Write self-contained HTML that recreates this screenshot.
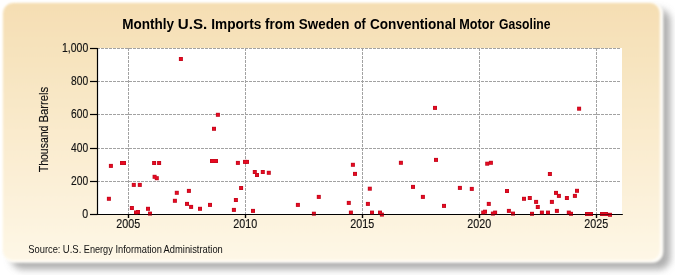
<!DOCTYPE html>
<html><head><meta charset="utf-8"><style>
html,body{margin:0;padding:0;background:#fff;width:675px;height:275px;overflow:hidden}
svg{display:block;will-change:transform}
text{font-family:"Liberation Sans",sans-serif;fill:#000}
.lab{font-size:12px;fill:#111;stroke:#111;stroke-width:0.15px}
.title{font-size:13.9px;font-weight:bold;fill:#000}
.src{font-size:10.3px;fill:#111}
</style></head><body>
<svg width="675" height="275" viewBox="0 0 675 275">
<defs>
<linearGradient id="bg" x1="0" y1="0" x2="0" y2="1">
<stop offset="0" stop-color="#f5deb3"/>
<stop offset="1" stop-color="#fef7e6"/>
</linearGradient>
<filter id="sh" x="-5%" y="-5%" width="115%" height="125%">
<feGaussianBlur stdDeviation="3.6"/>
</filter>
<filter id="sw" x="-2%" y="-2%" width="104%" height="106%"><feGaussianBlur stdDeviation="0.9"/></filter>
<filter id="sw2" x="-2%" y="-2%" width="104%" height="106%"><feGaussianBlur stdDeviation="1.1"/></filter>
</defs>
<rect x="11" y="9" width="659.5" height="260.5" rx="12" ry="12" fill="#7a7a7a" fill-opacity="0.6" filter="url(#sh)"/>
<rect x="2.5" y="2.5" width="660.8" height="260.3" rx="11" ry="11" fill="#fffdf8" filter="url(#sw)"/>
<rect x="3" y="3" width="656.8" height="257.2" rx="10" ry="10" fill="url(#bg)" filter="url(#sw2)"/>
<rect x="97" y="48" width="525" height="166.5" fill="#fff"/>
<line x1="97" y1="181.5" x2="621" y2="181.5" stroke="#a2a2a2" stroke-width="1" stroke-dasharray="3,1"/>
<line x1="97" y1="148.5" x2="621" y2="148.5" stroke="#a2a2a2" stroke-width="1" stroke-dasharray="3,1"/>
<line x1="97" y1="114.5" x2="621" y2="114.5" stroke="#a2a2a2" stroke-width="1" stroke-dasharray="3,1"/>
<line x1="97" y1="81.5" x2="621" y2="81.5" stroke="#a2a2a2" stroke-width="1" stroke-dasharray="3,1"/>
<line x1="97" y1="48.5" x2="621" y2="48.5" stroke="#a2a2a2" stroke-width="1" stroke-dasharray="3,1"/>
<line x1="128.5" y1="48" x2="128.5" y2="214" stroke="#a2a2a2" stroke-width="1" stroke-dasharray="3,1"/>
<line x1="245.5" y1="48" x2="245.5" y2="214" stroke="#a2a2a2" stroke-width="1" stroke-dasharray="3,1"/>
<line x1="362.5" y1="48" x2="362.5" y2="214" stroke="#a2a2a2" stroke-width="1" stroke-dasharray="3,1"/>
<line x1="479.5" y1="48" x2="479.5" y2="214" stroke="#a2a2a2" stroke-width="1" stroke-dasharray="3,1"/>
<line x1="596.5" y1="48" x2="596.5" y2="214" stroke="#a2a2a2" stroke-width="1" stroke-dasharray="3,1"/>
<line x1="97.5" y1="48" x2="97.5" y2="215" stroke="#000" stroke-width="1.2"/>
<line x1="90" y1="214.5" x2="97.5" y2="214.5" stroke="#000" stroke-width="1.2"/>
<line x1="90" y1="181.5" x2="97.5" y2="181.5" stroke="#000" stroke-width="1.2"/>
<line x1="90" y1="148.5" x2="97.5" y2="148.5" stroke="#000" stroke-width="1.2"/>
<line x1="90" y1="114.5" x2="97.5" y2="114.5" stroke="#000" stroke-width="1.2"/>
<line x1="90" y1="81.5" x2="97.5" y2="81.5" stroke="#000" stroke-width="1.2"/>
<line x1="90" y1="48.5" x2="97.5" y2="48.5" stroke="#000" stroke-width="1.2"/>
<line x1="128.5" y1="214.5" x2="128.5" y2="218" stroke="#000" stroke-width="1.2"/>
<line x1="245.5" y1="214.5" x2="245.5" y2="218" stroke="#000" stroke-width="1.2"/>
<line x1="362.5" y1="214.5" x2="362.5" y2="218" stroke="#000" stroke-width="1.2"/>
<line x1="479.5" y1="214.5" x2="479.5" y2="218" stroke="#000" stroke-width="1.2"/>
<line x1="596.5" y1="214.5" x2="596.5" y2="218" stroke="#000" stroke-width="1.2"/>
<line x1="97" y1="214.5" x2="622.7" y2="214.5" stroke="#000" stroke-width="1.2"/>
<rect x="106.9" y="196.8" width="4" height="4" fill="#c40a1e"/>
<rect x="108.9" y="163.9" width="4" height="4" fill="#c40a1e"/>
<rect x="120.0" y="161.0" width="4" height="4" fill="#c40a1e"/>
<rect x="122.0" y="161.0" width="4" height="4" fill="#c40a1e"/>
<rect x="129.9" y="206.0" width="4" height="4" fill="#c40a1e"/>
<rect x="131.8" y="182.9" width="4" height="4" fill="#c40a1e"/>
<rect x="134.0" y="210.5" width="4" height="4" fill="#c40a1e"/>
<rect x="136.0" y="210.0" width="4" height="4" fill="#c40a1e"/>
<rect x="137.8" y="182.9" width="4" height="4" fill="#c40a1e"/>
<rect x="146.0" y="206.8" width="4" height="4" fill="#c40a1e"/>
<rect x="148.0" y="211.6" width="4" height="4" fill="#c40a1e"/>
<rect x="152.1" y="161.0" width="4" height="4" fill="#c40a1e"/>
<rect x="157.1" y="161.0" width="4" height="4" fill="#c40a1e"/>
<rect x="152.6" y="174.8" width="4" height="4" fill="#c40a1e"/>
<rect x="154.8" y="176.2" width="4" height="4" fill="#c40a1e"/>
<rect x="172.9" y="198.8" width="4" height="4" fill="#c40a1e"/>
<rect x="174.8" y="190.8" width="4" height="4" fill="#c40a1e"/>
<rect x="178.9" y="57.0" width="4" height="4" fill="#c40a1e"/>
<rect x="185.0" y="201.9" width="4" height="4" fill="#c40a1e"/>
<rect x="186.9" y="188.9" width="4" height="4" fill="#c40a1e"/>
<rect x="189.1" y="204.9" width="4" height="4" fill="#c40a1e"/>
<rect x="198.0" y="206.8" width="4" height="4" fill="#c40a1e"/>
<rect x="208.0" y="202.9" width="4" height="4" fill="#c40a1e"/>
<rect x="210.0" y="159.0" width="4" height="4" fill="#c40a1e"/>
<rect x="212.0" y="159.0" width="4" height="4" fill="#c40a1e"/>
<rect x="214.0" y="159.0" width="4" height="4" fill="#c40a1e"/>
<rect x="212.0" y="126.8" width="4" height="4" fill="#c40a1e"/>
<rect x="215.9" y="112.8" width="4" height="4" fill="#c40a1e"/>
<rect x="231.9" y="207.9" width="4" height="4" fill="#c40a1e"/>
<rect x="233.9" y="198.0" width="4" height="4" fill="#c40a1e"/>
<rect x="235.9" y="160.9" width="4" height="4" fill="#c40a1e"/>
<rect x="239.1" y="186.0" width="4" height="4" fill="#c40a1e"/>
<rect x="243.0" y="159.9" width="4" height="4" fill="#c40a1e"/>
<rect x="245.0" y="159.9" width="4" height="4" fill="#c40a1e"/>
<rect x="251.0" y="208.9" width="4" height="4" fill="#c40a1e"/>
<rect x="252.8" y="170.0" width="4" height="4" fill="#c40a1e"/>
<rect x="255.0" y="173.0" width="4" height="4" fill="#c40a1e"/>
<rect x="260.8" y="170.0" width="4" height="4" fill="#c40a1e"/>
<rect x="266.8" y="170.8" width="4" height="4" fill="#c40a1e"/>
<rect x="295.9" y="202.9" width="4" height="4" fill="#c40a1e"/>
<rect x="311.9" y="211.7" width="4" height="4" fill="#c40a1e"/>
<rect x="316.8" y="194.9" width="4" height="4" fill="#c40a1e"/>
<rect x="346.8" y="200.9" width="4" height="4" fill="#c40a1e"/>
<rect x="348.9" y="210.6" width="4" height="4" fill="#c40a1e"/>
<rect x="350.9" y="162.8" width="4" height="4" fill="#c40a1e"/>
<rect x="353.0" y="171.9" width="4" height="4" fill="#c40a1e"/>
<rect x="365.9" y="201.9" width="4" height="4" fill="#c40a1e"/>
<rect x="367.8" y="186.7" width="4" height="4" fill="#c40a1e"/>
<rect x="370.0" y="210.6" width="4" height="4" fill="#c40a1e"/>
<rect x="378.0" y="210.6" width="4" height="4" fill="#c40a1e"/>
<rect x="379.9" y="212.6" width="4" height="4" fill="#c40a1e"/>
<rect x="398.9" y="160.8" width="4" height="4" fill="#c40a1e"/>
<rect x="411.0" y="184.9" width="4" height="4" fill="#c40a1e"/>
<rect x="420.9" y="194.9" width="4" height="4" fill="#c40a1e"/>
<rect x="433.0" y="105.9" width="4" height="4" fill="#c40a1e"/>
<rect x="434.0" y="157.9" width="4" height="4" fill="#c40a1e"/>
<rect x="442.0" y="203.9" width="4" height="4" fill="#c40a1e"/>
<rect x="457.9" y="185.9" width="4" height="4" fill="#c40a1e"/>
<rect x="469.8" y="186.9" width="4" height="4" fill="#c40a1e"/>
<rect x="481.2" y="210.6" width="4" height="4" fill="#c40a1e"/>
<rect x="483.0" y="209.7" width="4" height="4" fill="#c40a1e"/>
<rect x="485.2" y="161.7" width="4" height="4" fill="#c40a1e"/>
<rect x="488.9" y="160.8" width="4" height="4" fill="#c40a1e"/>
<rect x="486.8" y="201.9" width="4" height="4" fill="#c40a1e"/>
<rect x="490.9" y="211.6" width="4" height="4" fill="#c40a1e"/>
<rect x="493.1" y="210.6" width="4" height="4" fill="#c40a1e"/>
<rect x="505.0" y="189.0" width="4" height="4" fill="#c40a1e"/>
<rect x="506.9" y="208.9" width="4" height="4" fill="#c40a1e"/>
<rect x="511.0" y="211.6" width="4" height="4" fill="#c40a1e"/>
<rect x="522.0" y="196.8" width="4" height="4" fill="#c40a1e"/>
<rect x="527.8" y="196.0" width="4" height="4" fill="#c40a1e"/>
<rect x="530.0" y="211.8" width="4" height="4" fill="#c40a1e"/>
<rect x="534.1" y="199.9" width="4" height="4" fill="#c40a1e"/>
<rect x="535.8" y="205.0" width="4" height="4" fill="#c40a1e"/>
<rect x="539.9" y="210.6" width="4" height="4" fill="#c40a1e"/>
<rect x="546.0" y="210.6" width="4" height="4" fill="#c40a1e"/>
<rect x="547.9" y="172.0" width="4" height="4" fill="#c40a1e"/>
<rect x="549.9" y="199.9" width="4" height="4" fill="#c40a1e"/>
<rect x="554.0" y="190.9" width="4" height="4" fill="#c40a1e"/>
<rect x="556.9" y="193.9" width="4" height="4" fill="#c40a1e"/>
<rect x="554.9" y="208.9" width="4" height="4" fill="#c40a1e"/>
<rect x="564.9" y="196.0" width="4" height="4" fill="#c40a1e"/>
<rect x="566.8" y="210.6" width="4" height="4" fill="#c40a1e"/>
<rect x="569.0" y="211.8" width="4" height="4" fill="#c40a1e"/>
<rect x="572.9" y="193.9" width="4" height="4" fill="#c40a1e"/>
<rect x="575.0" y="188.8" width="4" height="4" fill="#c40a1e"/>
<rect x="577.1" y="106.7" width="4" height="4" fill="#c40a1e"/>
<rect x="585.0" y="212.0" width="4" height="4" fill="#c40a1e"/>
<rect x="587.0" y="212.0" width="4" height="4" fill="#c40a1e"/>
<rect x="589.0" y="212.0" width="4" height="4" fill="#c40a1e"/>
<rect x="600.0" y="212.0" width="4" height="4" fill="#c40a1e"/>
<rect x="602.0" y="212.0" width="4" height="4" fill="#c40a1e"/>
<rect x="604.0" y="212.0" width="4" height="4" fill="#c40a1e"/>
<rect x="608.0" y="212.8" width="4" height="4" fill="#c40a1e"/>
<rect x="107.7" y="197.6" width="2.4" height="2.4" fill="#e80a22"/>
<rect x="109.7" y="164.7" width="2.4" height="2.4" fill="#e80a22"/>
<rect x="120.8" y="161.8" width="2.4" height="2.4" fill="#e80a22"/>
<rect x="122.8" y="161.8" width="2.4" height="2.4" fill="#e80a22"/>
<rect x="130.7" y="206.8" width="2.4" height="2.4" fill="#e80a22"/>
<rect x="132.6" y="183.7" width="2.4" height="2.4" fill="#e80a22"/>
<rect x="134.8" y="211.3" width="2.4" height="2.4" fill="#e80a22"/>
<rect x="136.8" y="210.8" width="2.4" height="2.4" fill="#e80a22"/>
<rect x="138.6" y="183.7" width="2.4" height="2.4" fill="#e80a22"/>
<rect x="146.8" y="207.6" width="2.4" height="2.4" fill="#e80a22"/>
<rect x="148.8" y="212.4" width="2.4" height="2.4" fill="#e80a22"/>
<rect x="152.9" y="161.8" width="2.4" height="2.4" fill="#e80a22"/>
<rect x="157.9" y="161.8" width="2.4" height="2.4" fill="#e80a22"/>
<rect x="153.4" y="175.6" width="2.4" height="2.4" fill="#e80a22"/>
<rect x="155.6" y="177.0" width="2.4" height="2.4" fill="#e80a22"/>
<rect x="173.7" y="199.6" width="2.4" height="2.4" fill="#e80a22"/>
<rect x="175.6" y="191.6" width="2.4" height="2.4" fill="#e80a22"/>
<rect x="179.7" y="57.8" width="2.4" height="2.4" fill="#e80a22"/>
<rect x="185.8" y="202.7" width="2.4" height="2.4" fill="#e80a22"/>
<rect x="187.7" y="189.7" width="2.4" height="2.4" fill="#e80a22"/>
<rect x="189.9" y="205.7" width="2.4" height="2.4" fill="#e80a22"/>
<rect x="198.8" y="207.6" width="2.4" height="2.4" fill="#e80a22"/>
<rect x="208.8" y="203.7" width="2.4" height="2.4" fill="#e80a22"/>
<rect x="210.8" y="159.8" width="2.4" height="2.4" fill="#e80a22"/>
<rect x="212.8" y="159.8" width="2.4" height="2.4" fill="#e80a22"/>
<rect x="214.8" y="159.8" width="2.4" height="2.4" fill="#e80a22"/>
<rect x="212.8" y="127.6" width="2.4" height="2.4" fill="#e80a22"/>
<rect x="216.7" y="113.6" width="2.4" height="2.4" fill="#e80a22"/>
<rect x="232.7" y="208.7" width="2.4" height="2.4" fill="#e80a22"/>
<rect x="234.7" y="198.8" width="2.4" height="2.4" fill="#e80a22"/>
<rect x="236.7" y="161.7" width="2.4" height="2.4" fill="#e80a22"/>
<rect x="239.9" y="186.8" width="2.4" height="2.4" fill="#e80a22"/>
<rect x="243.8" y="160.7" width="2.4" height="2.4" fill="#e80a22"/>
<rect x="245.8" y="160.7" width="2.4" height="2.4" fill="#e80a22"/>
<rect x="251.8" y="209.7" width="2.4" height="2.4" fill="#e80a22"/>
<rect x="253.6" y="170.8" width="2.4" height="2.4" fill="#e80a22"/>
<rect x="255.8" y="173.8" width="2.4" height="2.4" fill="#e80a22"/>
<rect x="261.6" y="170.8" width="2.4" height="2.4" fill="#e80a22"/>
<rect x="267.6" y="171.6" width="2.4" height="2.4" fill="#e80a22"/>
<rect x="296.7" y="203.7" width="2.4" height="2.4" fill="#e80a22"/>
<rect x="312.7" y="212.5" width="2.4" height="2.4" fill="#e80a22"/>
<rect x="317.6" y="195.7" width="2.4" height="2.4" fill="#e80a22"/>
<rect x="347.6" y="201.7" width="2.4" height="2.4" fill="#e80a22"/>
<rect x="349.7" y="211.4" width="2.4" height="2.4" fill="#e80a22"/>
<rect x="351.7" y="163.6" width="2.4" height="2.4" fill="#e80a22"/>
<rect x="353.8" y="172.7" width="2.4" height="2.4" fill="#e80a22"/>
<rect x="366.7" y="202.7" width="2.4" height="2.4" fill="#e80a22"/>
<rect x="368.6" y="187.5" width="2.4" height="2.4" fill="#e80a22"/>
<rect x="370.8" y="211.4" width="2.4" height="2.4" fill="#e80a22"/>
<rect x="378.8" y="211.4" width="2.4" height="2.4" fill="#e80a22"/>
<rect x="380.7" y="213.4" width="2.4" height="2.4" fill="#e80a22"/>
<rect x="399.7" y="161.6" width="2.4" height="2.4" fill="#e80a22"/>
<rect x="411.8" y="185.7" width="2.4" height="2.4" fill="#e80a22"/>
<rect x="421.7" y="195.7" width="2.4" height="2.4" fill="#e80a22"/>
<rect x="433.8" y="106.7" width="2.4" height="2.4" fill="#e80a22"/>
<rect x="434.8" y="158.7" width="2.4" height="2.4" fill="#e80a22"/>
<rect x="442.8" y="204.7" width="2.4" height="2.4" fill="#e80a22"/>
<rect x="458.7" y="186.7" width="2.4" height="2.4" fill="#e80a22"/>
<rect x="470.6" y="187.7" width="2.4" height="2.4" fill="#e80a22"/>
<rect x="482.0" y="211.4" width="2.4" height="2.4" fill="#e80a22"/>
<rect x="483.8" y="210.5" width="2.4" height="2.4" fill="#e80a22"/>
<rect x="486.0" y="162.5" width="2.4" height="2.4" fill="#e80a22"/>
<rect x="489.7" y="161.6" width="2.4" height="2.4" fill="#e80a22"/>
<rect x="487.6" y="202.7" width="2.4" height="2.4" fill="#e80a22"/>
<rect x="491.7" y="212.4" width="2.4" height="2.4" fill="#e80a22"/>
<rect x="493.9" y="211.4" width="2.4" height="2.4" fill="#e80a22"/>
<rect x="505.8" y="189.8" width="2.4" height="2.4" fill="#e80a22"/>
<rect x="507.7" y="209.7" width="2.4" height="2.4" fill="#e80a22"/>
<rect x="511.8" y="212.4" width="2.4" height="2.4" fill="#e80a22"/>
<rect x="522.8" y="197.6" width="2.4" height="2.4" fill="#e80a22"/>
<rect x="528.6" y="196.8" width="2.4" height="2.4" fill="#e80a22"/>
<rect x="530.8" y="212.6" width="2.4" height="2.4" fill="#e80a22"/>
<rect x="534.9" y="200.7" width="2.4" height="2.4" fill="#e80a22"/>
<rect x="536.6" y="205.8" width="2.4" height="2.4" fill="#e80a22"/>
<rect x="540.7" y="211.4" width="2.4" height="2.4" fill="#e80a22"/>
<rect x="546.8" y="211.4" width="2.4" height="2.4" fill="#e80a22"/>
<rect x="548.7" y="172.8" width="2.4" height="2.4" fill="#e80a22"/>
<rect x="550.7" y="200.7" width="2.4" height="2.4" fill="#e80a22"/>
<rect x="554.8" y="191.7" width="2.4" height="2.4" fill="#e80a22"/>
<rect x="557.7" y="194.7" width="2.4" height="2.4" fill="#e80a22"/>
<rect x="555.7" y="209.7" width="2.4" height="2.4" fill="#e80a22"/>
<rect x="565.7" y="196.8" width="2.4" height="2.4" fill="#e80a22"/>
<rect x="567.6" y="211.4" width="2.4" height="2.4" fill="#e80a22"/>
<rect x="569.8" y="212.6" width="2.4" height="2.4" fill="#e80a22"/>
<rect x="573.7" y="194.7" width="2.4" height="2.4" fill="#e80a22"/>
<rect x="575.8" y="189.6" width="2.4" height="2.4" fill="#e80a22"/>
<rect x="577.9" y="107.5" width="2.4" height="2.4" fill="#e80a22"/>
<rect x="585.8" y="212.8" width="2.4" height="2.4" fill="#e80a22"/>
<rect x="587.8" y="212.8" width="2.4" height="2.4" fill="#e80a22"/>
<rect x="589.8" y="212.8" width="2.4" height="2.4" fill="#e80a22"/>
<rect x="600.8" y="212.8" width="2.4" height="2.4" fill="#e80a22"/>
<rect x="602.8" y="212.8" width="2.4" height="2.4" fill="#e80a22"/>
<rect x="604.8" y="212.8" width="2.4" height="2.4" fill="#e80a22"/>
<rect x="608.8" y="213.6" width="2.4" height="2.4" fill="#e80a22"/>
<line x1="97" y1="214.5" x2="622.7" y2="214.5" stroke="#000" stroke-width="1.2" stroke-opacity="0.55"/>
<line x1="128.5" y1="214.5" x2="128.5" y2="218" stroke="#000" stroke-width="1.2"/>
<line x1="245.5" y1="214.5" x2="245.5" y2="218" stroke="#000" stroke-width="1.2"/>
<line x1="362.5" y1="214.5" x2="362.5" y2="218" stroke="#000" stroke-width="1.2"/>
<line x1="479.5" y1="214.5" x2="479.5" y2="218" stroke="#000" stroke-width="1.2"/>
<line x1="596.5" y1="214.5" x2="596.5" y2="218" stroke="#000" stroke-width="1.2"/>
<text x="88.2" y="217.9" text-anchor="end" class="lab" textLength="5.9" lengthAdjust="spacingAndGlyphs">0</text>
<text x="88.2" y="184.9" text-anchor="end" class="lab" textLength="17.1" lengthAdjust="spacingAndGlyphs">200</text>
<text x="88.2" y="151.9" text-anchor="end" class="lab" textLength="17.1" lengthAdjust="spacingAndGlyphs">400</text>
<text x="88.2" y="117.9" text-anchor="end" class="lab" textLength="17.1" lengthAdjust="spacingAndGlyphs">600</text>
<text x="88.2" y="84.9" text-anchor="end" class="lab" textLength="17.1" lengthAdjust="spacingAndGlyphs">800</text>
<text x="88.2" y="51.9" text-anchor="end" class="lab" textLength="26.2" lengthAdjust="spacingAndGlyphs">1,000</text>
<text x="128.2" y="227.9" text-anchor="middle" class="lab" textLength="23.9" lengthAdjust="spacingAndGlyphs">2005</text>
<text x="245.2" y="227.9" text-anchor="middle" class="lab" textLength="23.9" lengthAdjust="spacingAndGlyphs">2010</text>
<text x="362.2" y="227.9" text-anchor="middle" class="lab" textLength="23.9" lengthAdjust="spacingAndGlyphs">2015</text>
<text x="479.2" y="227.9" text-anchor="middle" class="lab" textLength="23.9" lengthAdjust="spacingAndGlyphs">2020</text>
<text x="596.2" y="227.9" text-anchor="middle" class="lab" textLength="23.9" lengthAdjust="spacingAndGlyphs">2025</text>
<text transform="translate(47.8,0) rotate(-90)" class="lab"><tspan x="-172.20" textLength="46.54" lengthAdjust="spacingAndGlyphs">Thousand</tspan></text>
<text transform="translate(47.8,0) rotate(-90)" class="lab"><tspan x="-122.50" textLength="35.76" lengthAdjust="spacingAndGlyphs">Barrels</tspan></text>
<text x="122.2" y="28.6" class="title" textLength="51.82" lengthAdjust="spacingAndGlyphs">Monthly</text>
<text x="177.8" y="28.6" class="title" textLength="29.41" lengthAdjust="spacingAndGlyphs">U.S.</text>
<text x="211.2" y="28.6" class="title" textLength="50.13" lengthAdjust="spacingAndGlyphs">Imports</text>
<text x="265.1" y="28.6" class="title" textLength="29.85" lengthAdjust="spacingAndGlyphs">from</text>
<text x="298.8" y="28.6" class="title" textLength="50.69" lengthAdjust="spacingAndGlyphs">Sweden</text>
<text x="354.0" y="28.6" class="title" textLength="11.74" lengthAdjust="spacingAndGlyphs">of</text>
<text x="370.0" y="28.6" class="title" textLength="85.96" lengthAdjust="spacingAndGlyphs">Conventional</text>
<text x="459.3" y="28.6" class="title" textLength="35.14" lengthAdjust="spacingAndGlyphs">Motor</text>
<text x="499.1" y="28.6" class="title" textLength="51.4" lengthAdjust="spacingAndGlyphs">Gasoline</text>
<text x="28.3" y="253.2" class="src" textLength="32.17" lengthAdjust="spacingAndGlyphs">Source:</text>
<text x="62.8" y="253.2" class="src" textLength="18.48" lengthAdjust="spacingAndGlyphs">U.S.</text>
<text x="83.8" y="253.2" class="src" textLength="29.0" lengthAdjust="spacingAndGlyphs">Energy</text>
<text x="115.4" y="253.2" class="src" textLength="46.58" lengthAdjust="spacingAndGlyphs">Information</text>
<text x="163.6" y="253.2" class="src" textLength="59.23" lengthAdjust="spacingAndGlyphs">Administration</text>
</svg>
</body></html>
